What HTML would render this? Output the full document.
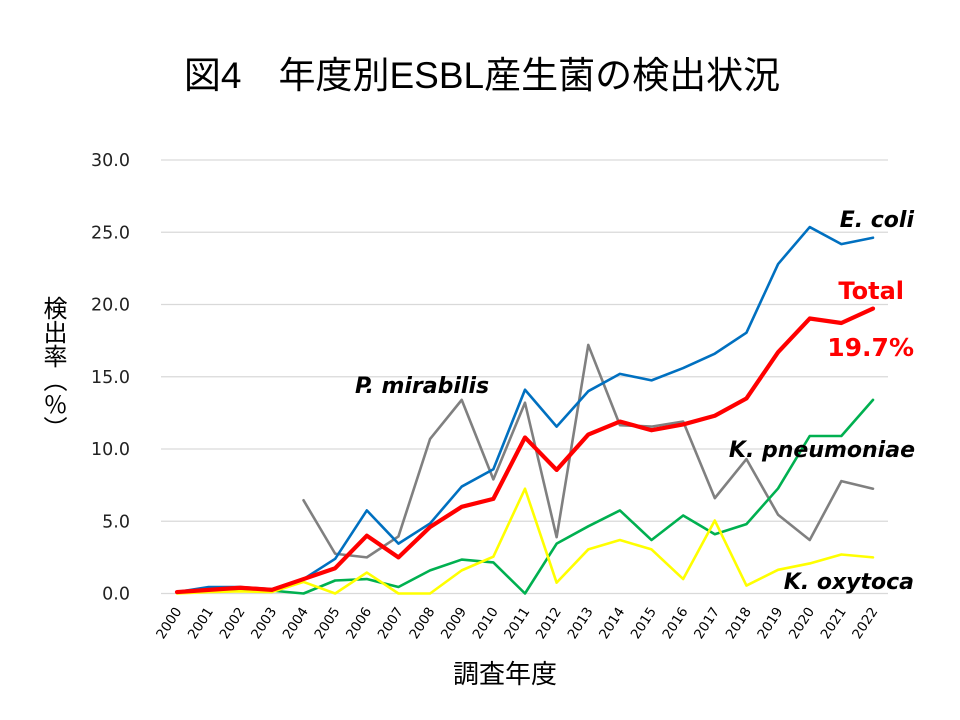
<!DOCTYPE html>
<html><head><meta charset="utf-8">
<style>
html,body{margin:0;padding:0;background:#fff;}
#wrap{position:relative;width:960px;height:720px;overflow:hidden;background:#fff;}
svg{position:absolute;left:0;top:0;}
#ylab{position:absolute;left:42px;top:296px;width:26px;writing-mode:vertical-rl;text-orientation:upright;font-family:"Noto Sans CJK JP","Liberation Sans",sans-serif;font-size:24px;line-height:26px;color:#000;letter-spacing:0px;}
</style></head>
<body><div id="wrap">
<svg width="960" height="720" viewBox="0 0 960 720" xmlns="http://www.w3.org/2000/svg">
<text x="482" y="88" text-anchor="middle" font-family="Liberation Sans, Noto Sans CJK JP, sans-serif" font-size="37" fill="#000">図4　年度別ESBL産生菌の検出状況</text>
<g stroke="#D9D9D9" stroke-width="1.3">
<line x1="161" y1="593.5" x2="888" y2="593.5"/>
<line x1="161" y1="521.25" x2="888" y2="521.25"/>
<line x1="161" y1="449" x2="888" y2="449"/>
<line x1="161" y1="376.75" x2="888" y2="376.75"/>
<line x1="161" y1="304.5" x2="888" y2="304.5"/>
<line x1="161" y1="232.25" x2="888" y2="232.25"/>
<line x1="161" y1="160" x2="888" y2="160"/>
</g>
<g font-family="DejaVu Sans, sans-serif" font-size="17.5" fill="#222" text-anchor="end">
<text x="130" y="599.5">0.0</text>
<text x="130" y="527.3">5.0</text>
<text x="130" y="455">10.0</text>
<text x="130" y="382.8">15.0</text>
<text x="130" y="310.5">20.0</text>
<text x="130" y="238.3">25.0</text>
<text x="130" y="166">30.0</text>
</g>
<g font-family="DejaVu Sans, sans-serif" font-size="13.5" fill="#000" text-anchor="end">
<text transform="translate(182,611) rotate(-57)">2000</text>
<text transform="translate(213.6,611) rotate(-57)">2001</text>
<text transform="translate(245.3,611) rotate(-57)">2002</text>
<text transform="translate(276.9,611) rotate(-57)">2003</text>
<text transform="translate(308.5,611) rotate(-57)">2004</text>
<text transform="translate(340.2,611) rotate(-57)">2005</text>
<text transform="translate(371.8,611) rotate(-57)">2006</text>
<text transform="translate(403.5,611) rotate(-57)">2007</text>
<text transform="translate(435.1,611) rotate(-57)">2008</text>
<text transform="translate(466.7,611) rotate(-57)">2009</text>
<text transform="translate(498.4,611) rotate(-57)">2010</text>
<text transform="translate(530,611) rotate(-57)">2011</text>
<text transform="translate(561.6,611) rotate(-57)">2012</text>
<text transform="translate(593.3,611) rotate(-57)">2013</text>
<text transform="translate(624.9,611) rotate(-57)">2014</text>
<text transform="translate(656.5,611) rotate(-57)">2015</text>
<text transform="translate(688.2,611) rotate(-57)">2016</text>
<text transform="translate(719.8,611) rotate(-57)">2017</text>
<text transform="translate(751.5,611) rotate(-57)">2018</text>
<text transform="translate(783.1,611) rotate(-57)">2019</text>
<text transform="translate(814.7,611) rotate(-57)">2020</text>
<text transform="translate(846.4,611) rotate(-57)">2021</text>
<text transform="translate(878,611) rotate(-57)">2022</text>
</g>
<text x="505" y="683" text-anchor="middle" font-family="Liberation Sans, Noto Sans CJK JP, sans-serif" font-size="26" fill="#000">調査年度</text>
<g transform="translate(177,593.5) scale(31.636,-14.45)" fill="none" stroke-linejoin="round" stroke-linecap="round">
<polyline vector-effect="non-scaling-stroke" stroke="#808080" stroke-width="2.6" points="4,6.45 5,2.75 6,2.5 7,3.95 8,10.7 9,13.4 10,7.9 11,13.2 12,3.9 13,17.2 14,11.65 15,11.55 16,11.9 17,6.6 18,9.3 19,5.45 20,3.7 21,7.78 22,7.25"/>
<polyline vector-effect="non-scaling-stroke" stroke="#00B050" stroke-width="2.6" points="0,0.1 1,0.2 2,0.3 3,0.2 4,0 5,0.9 6,1.0 7,0.45 8,1.6 9,2.35 10,2.15 11,0 12,3.45 13,4.65 14,5.75 15,3.7 16,5.4 17,4.1 18,4.8 19,7.27 20,10.9 21,10.9 22,13.4"/>
<polyline vector-effect="non-scaling-stroke" stroke="#FFFF00" stroke-width="2.6" points="0,0 1,0.1 2,0.15 3,0.1 4,0.8 5,0 6,1.45 7,0 8,0 9,1.6 10,2.55 11,7.25 12,0.75 13,3.05 14,3.7 15,3.05 16,1.0 17,5.05 18,0.55 19,1.64 20,2.08 21,2.7 22,2.5"/>
<polyline vector-effect="non-scaling-stroke" stroke="#0070C0" stroke-width="2.6" points="0,0.1 1,0.45 2,0.45 3,0.3 4,1.0 5,2.4 6,5.75 7,3.45 8,4.85 9,7.4 10,8.6 11,14.1 12,11.55 13,14.0 14,15.2 15,14.75 16,15.6 17,16.6 18,18.05 19,22.8 20,25.36 21,24.18 22,24.62"/>
<polyline vector-effect="non-scaling-stroke" stroke="#FF0000" stroke-width="4.2" points="0,0.1 1,0.25 2,0.4 3,0.25 4,1.0 5,1.75 6,4.0 7,2.5 8,4.6 9,6.0 10,6.55 11,10.8 12,8.55 13,11.0 14,11.9 15,11.3 16,11.7 17,12.3 18,13.5 19,16.7 20,19.03 21,18.72 22,19.72"/>
</g>
<g font-family="DejaVu Sans, sans-serif" font-weight="bold" font-style="italic" font-size="22" fill="#000">
<text x="355" y="393">P. mirabilis</text>
<text x="914" y="227" text-anchor="end">E. coli</text>
<text x="915" y="457" text-anchor="end">K. pneumoniae</text>
<text x="914" y="589" text-anchor="end">K. oxytoca</text>
</g>
<g font-family="DejaVu Sans, sans-serif" font-weight="bold" fill="#FF0000">
<text x="904" y="299" text-anchor="end" font-size="24">Total</text>
<text x="914" y="356" text-anchor="end" font-size="25">19.7%</text>
</g>
</svg>
<div id="ylab">検出率（%）</div>
</div></body></html>
